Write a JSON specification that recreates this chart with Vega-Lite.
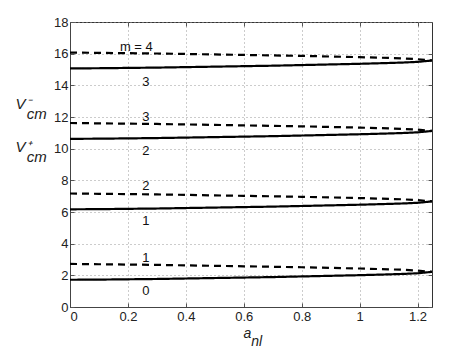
{
  "$schema": "https://vega.github.io/schema/vega-lite/v6.json",
  "width": 362,
  "height": 285,
  "autosize": {"type": "none"},
  "padding": {"left": 70, "top": 22, "right": 35, "bottom": 44},
  "background": "white",
  "config": {
    "view": {"stroke": "#333333", "strokeWidth": 1},
    "font": "Liberation Sans",
    "axis": {
      "labelFont": "Liberation Sans",
      "labelFontSize": 13,
      "labelColor": "#222222",
      "domainColor": "#444444",
      "tickColor": "#555555",
      "gridColor": "#999999",
      "gridDash": [1, 3],
      "gridWidth": 1,
      "tickSize": -4,
      "titleFont": "Liberation Sans",
      "titleFontWeight": "normal",
      "titleFontStyle": "italic",
      "titleColor": "#222222"
    }
  },
  "datasets": {
    "lines": [
      {"s":"s0","k":"solid","x":0,"y":1.72},{"s":"s0","k":"solid","x":0.1,"y":1.73},{"s":"s0","k":"solid","x":0.2,"y":1.75},{"s":"s0","k":"solid","x":0.3,"y":1.77},{"s":"s0","k":"solid","x":0.4,"y":1.80},{"s":"s0","k":"solid","x":0.5,"y":1.83},{"s":"s0","k":"solid","x":0.6,"y":1.86},{"s":"s0","k":"solid","x":0.7,"y":1.89},{"s":"s0","k":"solid","x":0.8,"y":1.93},{"s":"s0","k":"solid","x":0.9,"y":1.97},{"s":"s0","k":"solid","x":1.0,"y":2.01},{"s":"s0","k":"solid","x":1.1,"y":2.06},{"s":"s0","k":"solid","x":1.15,"y":2.09},{"s":"s0","k":"solid","x":1.2,"y":2.13},{"s":"s0","k":"solid","x":1.25,"y":2.22},
      {"s":"s1","k":"solid","x":0,"y":6.17},{"s":"s1","k":"solid","x":0.1,"y":6.18},{"s":"s1","k":"solid","x":0.2,"y":6.20},{"s":"s1","k":"solid","x":0.3,"y":6.22},{"s":"s1","k":"solid","x":0.4,"y":6.25},{"s":"s1","k":"solid","x":0.5,"y":6.28},{"s":"s1","k":"solid","x":0.6,"y":6.31},{"s":"s1","k":"solid","x":0.7,"y":6.34},{"s":"s1","k":"solid","x":0.8,"y":6.38},{"s":"s1","k":"solid","x":0.9,"y":6.42},{"s":"s1","k":"solid","x":1.0,"y":6.46},{"s":"s1","k":"solid","x":1.1,"y":6.51},{"s":"s1","k":"solid","x":1.15,"y":6.54},{"s":"s1","k":"solid","x":1.2,"y":6.58},{"s":"s1","k":"solid","x":1.25,"y":6.67},
      {"s":"s2","k":"solid","x":0,"y":10.62},{"s":"s2","k":"solid","x":0.1,"y":10.63},{"s":"s2","k":"solid","x":0.2,"y":10.65},{"s":"s2","k":"solid","x":0.3,"y":10.67},{"s":"s2","k":"solid","x":0.4,"y":10.70},{"s":"s2","k":"solid","x":0.5,"y":10.73},{"s":"s2","k":"solid","x":0.6,"y":10.76},{"s":"s2","k":"solid","x":0.7,"y":10.79},{"s":"s2","k":"solid","x":0.8,"y":10.83},{"s":"s2","k":"solid","x":0.9,"y":10.87},{"s":"s2","k":"solid","x":1.0,"y":10.91},{"s":"s2","k":"solid","x":1.1,"y":10.96},{"s":"s2","k":"solid","x":1.15,"y":10.99},{"s":"s2","k":"solid","x":1.2,"y":11.03},{"s":"s2","k":"solid","x":1.25,"y":11.12},
      {"s":"s3","k":"solid","x":0,"y":15.07},{"s":"s3","k":"solid","x":0.1,"y":15.08},{"s":"s3","k":"solid","x":0.2,"y":15.10},{"s":"s3","k":"solid","x":0.3,"y":15.12},{"s":"s3","k":"solid","x":0.4,"y":15.15},{"s":"s3","k":"solid","x":0.5,"y":15.18},{"s":"s3","k":"solid","x":0.6,"y":15.21},{"s":"s3","k":"solid","x":0.7,"y":15.24},{"s":"s3","k":"solid","x":0.8,"y":15.28},{"s":"s3","k":"solid","x":0.9,"y":15.32},{"s":"s3","k":"solid","x":1.0,"y":15.36},{"s":"s3","k":"solid","x":1.1,"y":15.41},{"s":"s3","k":"solid","x":1.15,"y":15.44},{"s":"s3","k":"solid","x":1.2,"y":15.48},{"s":"s3","k":"solid","x":1.25,"y":15.57},
      {"s":"d1","k":"dash","x":0,"y":2.72},{"s":"d1","k":"dash","x":0.1,"y":2.70},{"s":"d1","k":"dash","x":0.2,"y":2.68},{"s":"d1","k":"dash","x":0.3,"y":2.66},{"s":"d1","k":"dash","x":0.4,"y":2.63},{"s":"d1","k":"dash","x":0.5,"y":2.60},{"s":"d1","k":"dash","x":0.6,"y":2.57},{"s":"d1","k":"dash","x":0.7,"y":2.54},{"s":"d1","k":"dash","x":0.8,"y":2.51},{"s":"d1","k":"dash","x":0.9,"y":2.47},{"s":"d1","k":"dash","x":1.0,"y":2.43},{"s":"d1","k":"dash","x":1.1,"y":2.38},{"s":"d1","k":"dash","x":1.15,"y":2.35},{"s":"d1","k":"dash","x":1.2,"y":2.30},{"s":"d1","k":"dash","x":1.25,"y":2.22},
      {"s":"d2","k":"dash","x":0,"y":7.17},{"s":"d2","k":"dash","x":0.1,"y":7.15},{"s":"d2","k":"dash","x":0.2,"y":7.13},{"s":"d2","k":"dash","x":0.3,"y":7.11},{"s":"d2","k":"dash","x":0.4,"y":7.08},{"s":"d2","k":"dash","x":0.5,"y":7.05},{"s":"d2","k":"dash","x":0.6,"y":7.02},{"s":"d2","k":"dash","x":0.7,"y":6.99},{"s":"d2","k":"dash","x":0.8,"y":6.96},{"s":"d2","k":"dash","x":0.9,"y":6.92},{"s":"d2","k":"dash","x":1.0,"y":6.88},{"s":"d2","k":"dash","x":1.1,"y":6.83},{"s":"d2","k":"dash","x":1.15,"y":6.80},{"s":"d2","k":"dash","x":1.2,"y":6.75},{"s":"d2","k":"dash","x":1.25,"y":6.67},
      {"s":"d3","k":"dash","x":0,"y":11.62},{"s":"d3","k":"dash","x":0.1,"y":11.60},{"s":"d3","k":"dash","x":0.2,"y":11.58},{"s":"d3","k":"dash","x":0.3,"y":11.56},{"s":"d3","k":"dash","x":0.4,"y":11.53},{"s":"d3","k":"dash","x":0.5,"y":11.50},{"s":"d3","k":"dash","x":0.6,"y":11.47},{"s":"d3","k":"dash","x":0.7,"y":11.44},{"s":"d3","k":"dash","x":0.8,"y":11.41},{"s":"d3","k":"dash","x":0.9,"y":11.37},{"s":"d3","k":"dash","x":1.0,"y":11.33},{"s":"d3","k":"dash","x":1.1,"y":11.28},{"s":"d3","k":"dash","x":1.15,"y":11.25},{"s":"d3","k":"dash","x":1.2,"y":11.20},{"s":"d3","k":"dash","x":1.25,"y":11.12},
      {"s":"d4","k":"dash","x":0,"y":16.07},{"s":"d4","k":"dash","x":0.1,"y":16.05},{"s":"d4","k":"dash","x":0.2,"y":16.03},{"s":"d4","k":"dash","x":0.3,"y":16.01},{"s":"d4","k":"dash","x":0.4,"y":15.98},{"s":"d4","k":"dash","x":0.5,"y":15.95},{"s":"d4","k":"dash","x":0.6,"y":15.92},{"s":"d4","k":"dash","x":0.7,"y":15.89},{"s":"d4","k":"dash","x":0.8,"y":15.86},{"s":"d4","k":"dash","x":0.9,"y":15.82},{"s":"d4","k":"dash","x":1.0,"y":15.78},{"s":"d4","k":"dash","x":1.1,"y":15.73},{"s":"d4","k":"dash","x":1.15,"y":15.70},{"s":"d4","k":"dash","x":1.2,"y":15.65},{"s":"d4","k":"dash","x":1.25,"y":15.57}
    ],
    "labels": [
      {"x":0.229,"y":16.2,"t":"m = 4"},
      {"x":0.262,"y":13.95,"t":"3"},
      {"x":0.262,"y":11.74,"t":"3"},
      {"x":0.262,"y":9.63,"t":"2"},
      {"x":0.262,"y":7.36,"t":"2"},
      {"x":0.262,"y":5.15,"t":"1"},
      {"x":0.262,"y":2.86,"t":"1"},
      {"x":0.262,"y":0.73,"t":"0"}
    ]
  },
  "resolve": {"axis": {"x": "independent", "y": "independent"}},
  "layer": [
    {
      "data": {"name": "lines"},
      "mark": {"type": "line", "color": "black", "strokeWidth": 2.2, "clip": true},
      "encoding": {
        "x": {"field": "x", "type": "quantitative",
              "scale": {"domain": [0, 1.25], "nice": false, "zero": false},
              "axis": {"values": [0, 0.2, 0.4, 0.6, 0.8, 1, 1.2], "format": "~g", "grid": true,
                       "labelPadding": 7,
                       "title": ["a", "\u200b \u200b nl"], "titleFontSize": 14, "titleLineHeight": 8,
                       "titleAlign": "left", "titleBaseline": "top", "titleAnchor": "start",
                       "titleX": 173, "titleY": 19}},
        "y": {"field": "y", "type": "quantitative",
              "scale": {"domain": [0, 18], "nice": false, "zero": false},
              "axis": {"values": [0, 2, 4, 6, 8, 10, 12, 14, 16, 18], "grid": true,
                       "labelPadding": 6,
                       "title": ["V⁻", "\u200b \u200b \u2009cm", "\u200b", "\u200b", "V⁺", "\u200b \u200b \u2009cm"], "titleFontSize": 15, "titleLineHeight": 10.75,
                       "titleAngle": 0, "titleAlign": "left", "titleBaseline": "top", "titleAnchor": "start",
                       "titleX": -55, "titleY": 74}},
        "detail": {"field": "s"},
        "strokeDash": {"field": "k", "type": "nominal",
                       "scale": {"domain": ["solid", "dash"], "range": [[1, 0], [7, 5]]},
                       "legend": null}
      }
    },
    {
      "data": {"name": "labels"},
      "mark": {"type": "text", "fontSize": 13, "color": "#111111", "align": "center", "baseline": "alphabetic"},
      "encoding": {
        "x": {"field": "x", "type": "quantitative",
              "scale": {"domain": [0, 1.25], "nice": false, "zero": false},
              "axis": {"orient": "top", "values": [0, 0.2, 0.4, 0.6, 0.8, 1, 1.2], "labels": false, "grid": false, "domain": false, "title": null}},
        "y": {"field": "y", "type": "quantitative",
              "scale": {"domain": [0, 18], "nice": false, "zero": false},
              "axis": {"orient": "right", "values": [0, 2, 4, 6, 8, 10, 12, 14, 16, 18], "labels": false, "grid": false, "domain": false, "title": null}},
        "text": {"field": "t"}
      }
    }
  ]
}
